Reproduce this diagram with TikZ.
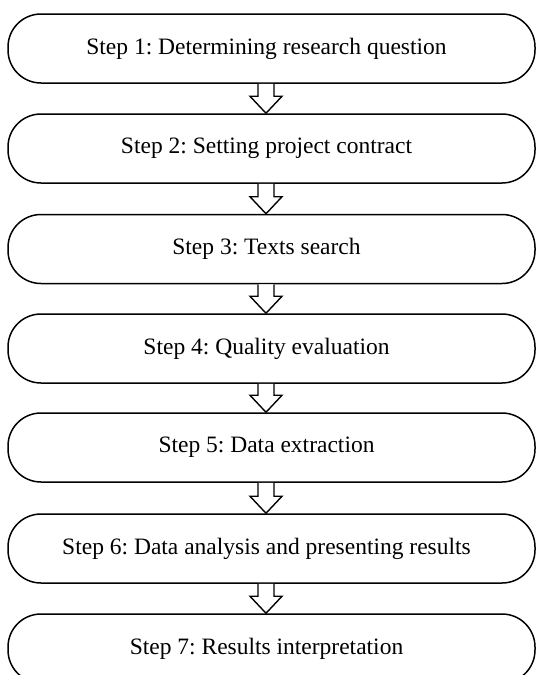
\documentclass[tikz,border=0pt]{standalone}
\usepackage{fontspec}
\setmainfont{Liberation Serif}
\frenchspacing
\usetikzlibrary{calc}
\tikzset{
  stepbox/.style={draw=black, line width=1.5pt, rounded corners=33pt, minimum width=527pt, minimum height=69pt, inner sep=0pt, font=\fontsize{23.5}{28}\selectfont},
  hollow/.style={draw=black, line width=1.4pt, fill=white, line join=miter}
}
\newcommand\steptext[1]{#1\hspace*{10pt}}
\newcommand\hollowarrow[2]{%
  \draw[hollow] ($(#1.south)+(-13.5,0)$) -- ($(#2.north)+(-13.5,17)$) -- ($(#2.north)+(-21.5,17)$) -- ($(#2.north)+(-5.5,0)$) -- ($(#2.north)+(10.5,17)$) -- ($(#2.north)+(2.5,17)$) -- ($(#1.south)+(2.5,0)$);}
\begin{document}
\begin{tikzpicture}[x=1pt,y=1pt]
\useasboundingbox (0,0) rectangle (536,-675);
\node[stepbox] (s1) at (271.5,-48.5) {\steptext{Step 1: Determining research question}};
\node[stepbox] (s2) at (271.5,-148.5) {\steptext{Step 2: Setting project contract}};
\node[stepbox] (s3) at (271.5,-249) {\steptext{Step 3: Texts search}};
\node[stepbox] (s4) at (271.5,-348.5) {\steptext{Step 4: Quality evaluation}};
\node[stepbox] (s5) at (271.5,-447.5) {\steptext{Step 5: Data extraction}};
\node[stepbox] (s6) at (271.5,-548.5) {\steptext{Step 6: Data analysis and presenting results}};
\node[stepbox] (s7) at (271.5,-648.5) {\steptext{Step 7: Results interpretation}};
\hollowarrow{s1}{s2}
\hollowarrow{s2}{s3}
\hollowarrow{s3}{s4}
\hollowarrow{s4}{s5}
\hollowarrow{s5}{s6}
\hollowarrow{s6}{s7}
\end{tikzpicture}
\end{document}
